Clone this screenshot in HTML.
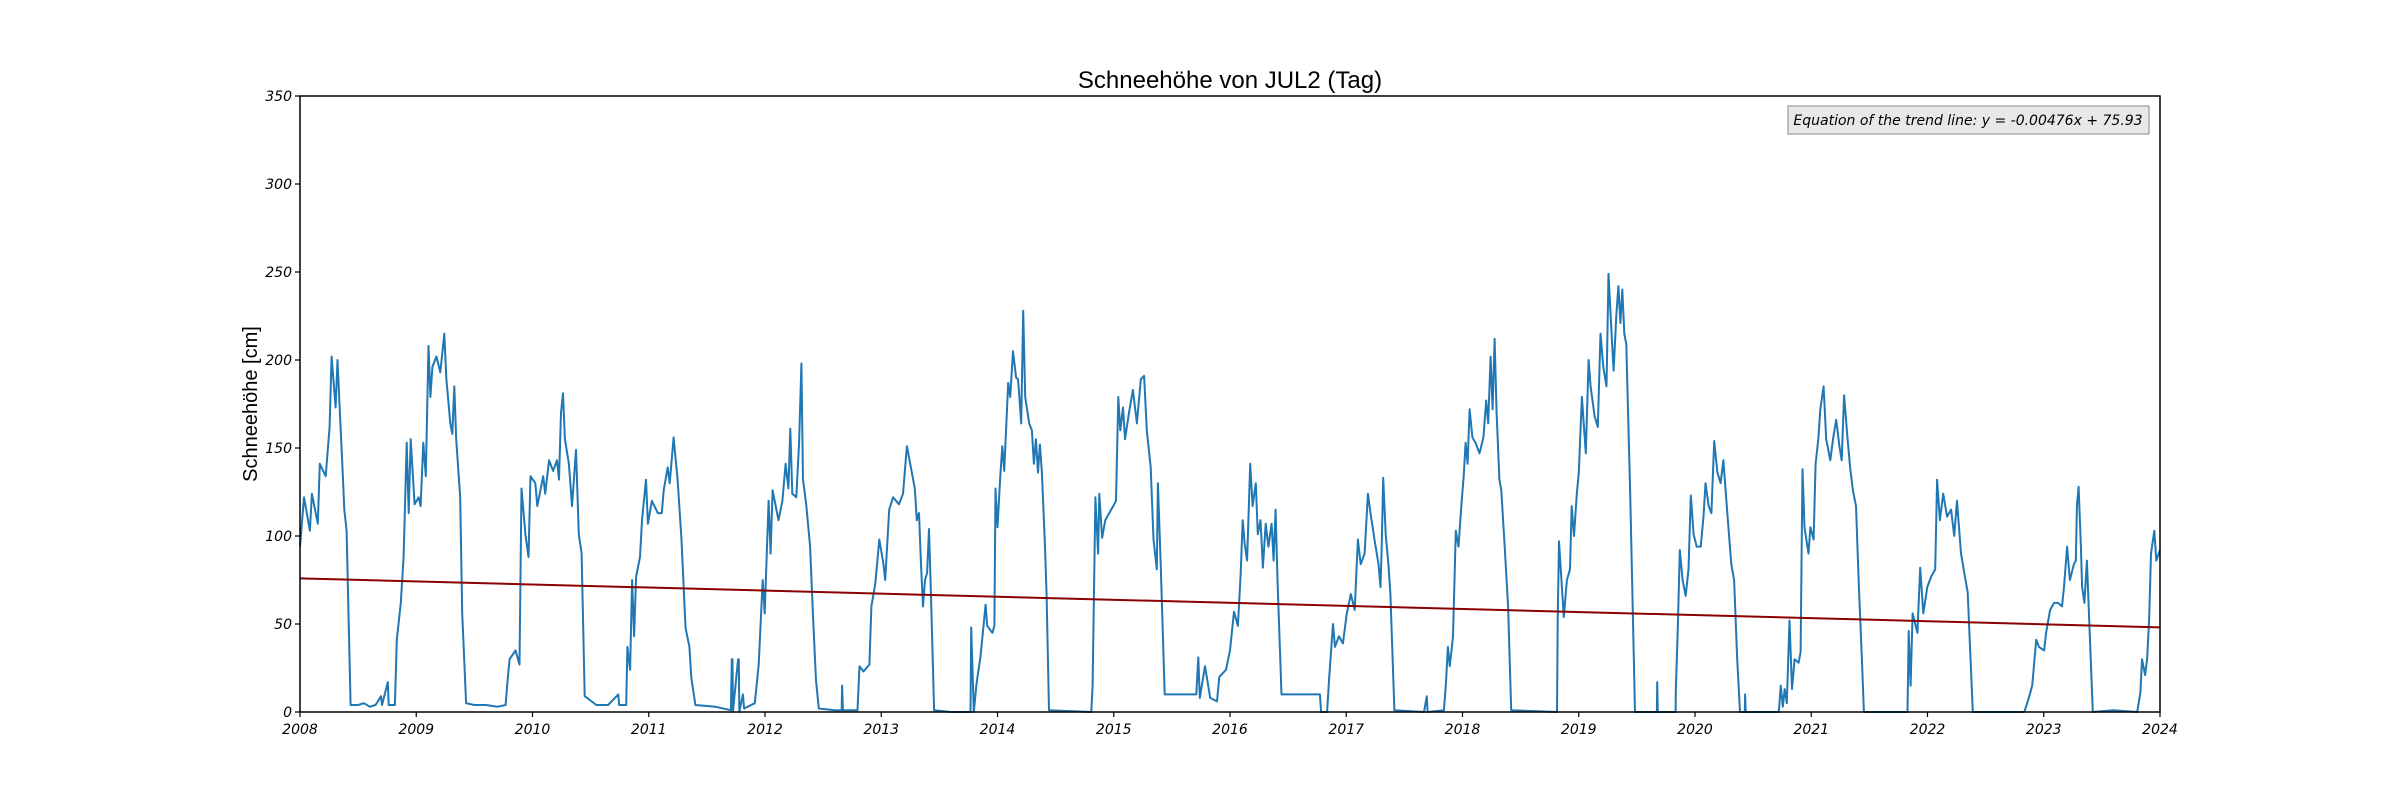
<!DOCTYPE html>
<html><head><meta charset="utf-8"><style>
body{margin:0;background:#fff}
svg{display:block}
text{font-family:"DejaVu Sans","Liberation Sans",sans-serif}
</style></head><body>
<svg id="chart" width="2400" height="800">
<rect width="2400" height="800" fill="#fff"/>
<text x="1230" y="88" text-anchor="middle" font-size="24" style="font-family:'Liberation Sans',sans-serif">Schneehöhe von JUL2 (Tag)</text>
<text transform="translate(257,404) rotate(-90)" text-anchor="middle" font-size="20" style="font-family:'Liberation Sans',sans-serif">Schneehöhe [cm]</text>
<g id="ticks"></g>
<g id="series"></g>
<rect x="300" y="96" width="1860" height="616" fill="none" stroke="#000" stroke-width="1.5"/>
<g>
<rect x="1788" y="106" width="361" height="28" fill="#e8e8e8" stroke="#888" stroke-width="1"/>
<text x="1968" y="125" text-anchor="middle" font-size="14" font-style="italic">Equation of the trend line: y = -0.00476x + 75.93</text>
</g>
</svg>
<script>
const yearTicks=[2008,2009,2010,2011,2012,2013,2014,2015,2016,2017,2018,2019,2020,2021,2022,2023,2024];
const depthTicks=[0,50,100,150,200,250,300,350];
const dates=[
2008.0,2008.034,2008.085,2008.102,2008.153,2008.17,2008.221,2008.255,2008.272,2008.306,2008.323,2008.34,2008.367,2008.381,2008.401,2008.435,
2008.5,2008.55,2008.6,2008.65,2008.697,2008.705,2008.755,2008.763,2008.816,2008.833,2008.867,2008.891,2008.918,2008.935,2008.952,2008.986,2009.02,2009.037,2009.061,2009.082,2009.105,2009.122,2009.139,2009.173,2009.207,2009.224,2009.241,2009.259,2009.293,2009.31,2009.327,2009.344,2009.378,2009.395,2009.429,
2009.5,2009.6,2009.7,2009.769,2009.786,2009.803,2009.854,2009.888,2009.905,2009.939,2009.966,2009.983,2010.024,2010.041,2010.092,2010.109,2010.143,2010.177,2010.211,2010.228,2010.245,2010.262,2010.279,2010.313,2010.34,2010.374,2010.398,2010.422,2010.449,
2010.55,2010.65,2010.738,2010.745,2010.806,2010.816,2010.84,2010.857,2010.874,2010.891,2010.925,2010.942,2010.976,2010.993,2011.027,2011.078,2011.112,2011.129,2011.163,2011.18,2011.214,2011.248,2011.282,2011.316,2011.35,2011.367,2011.401,
2011.571,2011.707,2011.714,2011.72,2011.724,2011.769,2011.775,2011.779,2011.81,2011.82,2011.912,2011.946,2011.98,2011.997,2012.031,2012.048,2012.065,2012.116,2012.15,2012.177,2012.201,2012.218,2012.235,2012.269,2012.293,2012.313,2012.327,2012.354,2012.388,2012.415,2012.439,2012.463,
2012.6,2012.66,2012.663,2012.67,2012.796,2012.813,2012.847,2012.898,2012.915,2012.949,2012.983,2013.017,2013.034,2013.068,2013.102,2013.153,2013.187,2013.221,2013.255,2013.289,2013.306,2013.325,2013.342,2013.359,2013.376,2013.394,2013.411,2013.428,2013.455,
2013.6,2013.768,2013.774,2013.796,2013.819,2013.853,2013.871,2013.898,2013.911,2013.956,2013.973,2013.983,2014.0,2014.024,2014.041,2014.058,2014.092,2014.109,2014.133,2014.16,2014.177,2014.204,2014.221,2014.238,2014.273,2014.296,2014.313,2014.33,2014.348,2014.365,2014.382,2014.409,2014.422,2014.443,
2014.807,2014.818,2014.842,2014.865,2014.876,2014.9,2014.927,2014.961,2014.995,2015.019,2015.039,2015.056,2015.08,2015.097,2015.131,2015.165,2015.199,2015.233,2015.261,2015.284,2015.318,2015.342,2015.37,2015.38,2015.404,2015.438,
2015.71,2015.727,2015.74,2015.785,2015.83,2015.888,2015.908,2015.966,2016.0,2016.034,2016.068,2016.092,2016.109,2016.126,2016.147,2016.174,2016.194,2016.222,2016.239,2016.262,2016.283,2016.307,2016.33,2016.358,2016.375,2016.392,2016.409,2016.443,
2016.773,2016.784,2016.835,2016.852,2016.886,2016.903,2016.937,2016.971,2017.005,2017.039,2017.073,2017.1,2017.124,2017.158,2017.186,2017.209,2017.243,2017.277,2017.295,2017.305,2017.318,2017.339,2017.363,2017.38,2017.414,
2017.669,2017.693,2017.7,2017.84,2017.857,2017.874,2017.891,2017.918,2017.942,2017.966,2017.993,2018.01,2018.027,2018.044,2018.061,2018.085,2018.112,2018.146,2018.18,2018.204,2018.221,2018.242,2018.259,2018.276,2018.293,2018.317,2018.334,2018.368,2018.392,2018.419,
2018.813,2018.819,2018.83,2018.847,2018.871,2018.898,2018.925,2018.939,2018.959,2018.983,2019.0,2019.027,2019.061,2019.085,2019.102,2019.136,2019.164,2019.187,2019.211,2019.239,2019.256,2019.279,2019.3,2019.324,2019.341,2019.358,2019.375,2019.392,2019.409,2019.443,2019.484,
2019.672,2019.675,2019.68,2019.833,2019.835,2019.852,2019.869,2019.893,2019.92,2019.944,2019.964,2019.988,2020.015,2020.049,2020.073,2020.09,2020.118,2020.141,2020.165,2020.193,2020.22,2020.244,2020.278,2020.312,2020.336,2020.363,2020.387,2020.428,2020.431,2020.436,
2020.721,2020.738,2020.755,2020.772,2020.79,2020.813,2020.834,2020.857,2020.891,2020.908,2020.925,2020.942,2020.976,2020.993,2021.02,2021.037,2021.061,2021.078,2021.106,2021.129,2021.164,2021.187,2021.215,2021.242,2021.262,2021.283,2021.31,2021.334,2021.358,2021.385,2021.412,2021.436,2021.453,
2021.828,2021.838,2021.855,2021.872,2021.913,2021.937,2021.964,2021.998,2022.032,2022.066,2022.083,2022.107,2022.135,2022.169,2022.203,2022.23,2022.254,2022.288,2022.322,2022.346,2022.39,
2022.833,2022.867,2022.901,2022.935,2022.959,2023.003,2023.02,2023.055,2023.089,2023.123,2023.157,2023.174,2023.201,2023.225,2023.259,2023.276,2023.286,2023.3,2023.32,2023.33,2023.35,2023.371,2023.422,
2023.6,2023.804,2023.831,2023.845,2023.872,2023.889,2023.906,2023.923,2023.951,2023.968,2024.0];
const depths=[
94,122,103,124,107,141,134,162,202,173,200,175,136,115,103,4,
4,5,3,4,9,4,17,4,4,41,62,88,153,113,155,118,122,117,153,134,208,179,196,202,193,204,215,189,164,158,185,155,122,56,5,
4,4,3,4,18,30,35,27,127,101,88,134,130,117,134,124,143,137,143,132,170,181,155,141,117,149,101,90,9,
4,4,10,4,4,37,24,75,43,77,88,109,132,107,120,113,113,126,139,130,156,132,98,48,37,19,4,
3,1,30,30,0,30,30,0,10,2,5,27,75,56,120,90,126,109,120,141,127,161,124,122,153,198,132,118,94,52,18,2,
1,1,15,1,1,26,23,27,60,73,98,85,75,115,122,118,124,151,139,127,109,113,84,60,75,79,104,66,1,
0,0,48,0,16,31,43,61,49,45,49,127,105,134,151,137,187,179,205,190,189,164,228,179,164,160,141,155,136,152,136,94,66,1,
0,15,122,90,124,99,109,113,117,120,179,160,173,155,170,183,164,189,191,160,139,98,81,130,84,10,
10,31,8,26,8,6,20,24,35,57,49,79,109,96,86,141,117,130,101,109,82,107,94,107,86,115,75,10,
10,0,0,18,50,37,43,39,56,67,58,98,84,90,124,113,98,84,71,94,133,101,84,67,1,
0,9,0,1,16,37,26,43,103,94,120,134,153,141,172,156,153,147,156,177,164,202,172,212,170,132,126,88,60,1,
0,52,97,79,54,75,81,117,100,124,136,179,147,200,185,168,162,215,196,185,249,219,194,226,242,221,240,215,209,124,0,
0,17,0,0,12,48,92,75,66,81,123,101,94,94,111,130,117,113,154,136,130,143,113,84,75,30,0,0,10,0,
0,15,3,13,5,52,13,30,28,34,138,105,90,105,98,141,155,172,185,155,143,155,166,151,143,180,157,139,126,117,68,30,0,
0,46,15,56,45,82,56,71,77,81,132,109,124,111,115,100,120,90,77,68,0,
0,7,15,41,37,35,45,58,62,62,60,71,94,75,84,86,118,128,94,71,62,86,0,
1,0,11,30,21,30,52,90,103,86,92];
const trendSlope=-0.00476, trendIntercept=75.93;
const X0=300,X1=2160,Y0=712,Y1=96;
const sx=v=>X0+(v-2008)/(2024-2008)*(X1-X0);
const sy=v=>Y0-v/350*(Y0-Y1);
const NS="http://www.w3.org/2000/svg";
const tg=document.getElementById('ticks'), sg=document.getElementById('series');
function mk(tag,at,p){const e=document.createElementNS(NS,tag);for(const k in at)e.setAttribute(k,at[k]);p.appendChild(e);return e;}
yearTicks.forEach(y=>{
 const l=mk('line',{x1:sx(y),x2:sx(y),y1:Y0,y2:Y0+5,stroke:'#000','stroke-width':1.2},tg);
 
 
 const t=mk('text',{x:sx(y),y:Y0+22,'text-anchor':'middle','font-size':14,'font-style':'italic'},tg);
 
 
 t.textContent=y;
});
depthTicks.forEach(d=>{
 const l=mk('line',{x1:X0-5,x2:X0,y1:sy(d),y2:sy(d),stroke:'#000','stroke-width':1.2},tg);
 
 
 const t=mk('text',{x:X0-8,y:sy(d)+5,'text-anchor':'end','font-size':14,'font-style':'italic'},tg);
 
 
 t.textContent=d;
});
if(dates.length!==depths.length)console.error('data length mismatch',dates.length,depths.length);
const n=Math.min(dates.length,depths.length);
const pts=[];
for(let i=0;i<n;i++)pts.push(sx(dates[i]).toFixed(1)+','+sy(depths[i]).toFixed(1));
const line=mk('polyline',{points:pts.join(' '),fill:'none',stroke:'#1f77b4','stroke-width':2,'stroke-linejoin':'round'},sg);


const days=(2024-2008)*365.25;
const tr=mk('line',{x1:sx(2008),y1:sy(trendIntercept),x2:sx(2024),y2:sy(trendIntercept+trendSlope*days),stroke:'#8b0000','stroke-width':2},sg);


</script>
</body></html>
